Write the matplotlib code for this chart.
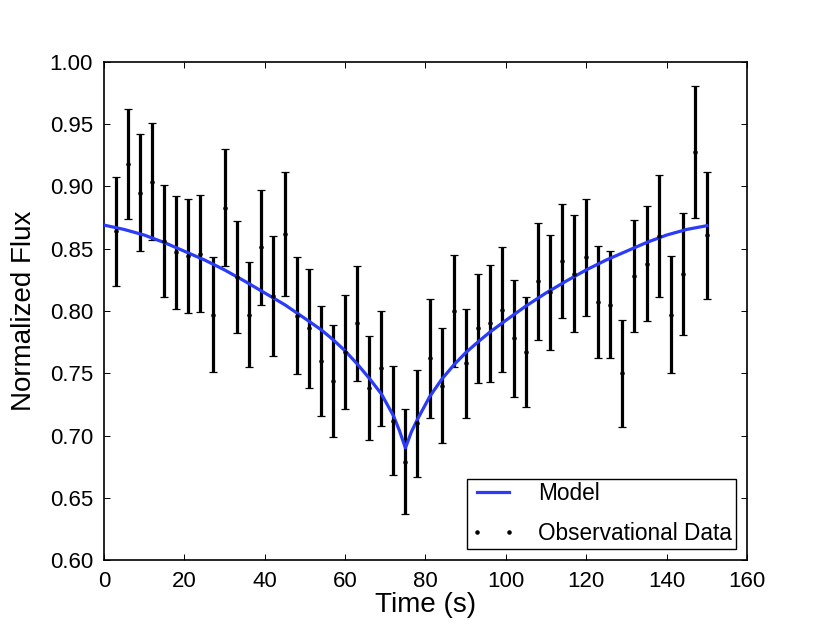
import matplotlib
matplotlib.use("Agg")
import matplotlib.pyplot as plt

plt.rcParams["font.family"] = ["Liberation Sans", "DejaVu Sans"]

time_s = [3, 6, 9, 12, 15, 18, 21, 24, 27, 30,
          33, 36, 39, 42, 45, 48, 51, 54, 57, 60,
          63, 66, 69, 72, 75, 78, 81, 84, 87, 90,
          93, 96, 99, 102, 105, 108, 111, 114, 117, 120,
          123, 126, 129, 132, 135, 138, 141, 144, 147, 150]
flux = [0.864, 0.918, 0.895, 0.904, 0.856, 0.847, 0.844, 0.846, 0.797, 0.883,
        0.827, 0.797, 0.851, 0.812, 0.862, 0.796, 0.786, 0.760, 0.744, 0.767,
        0.790, 0.738, 0.754, 0.712, 0.679, 0.710, 0.762, 0.740, 0.800, 0.758,
        0.786, 0.790, 0.801, 0.778, 0.767, 0.824, 0.815, 0.840, 0.830, 0.843,
        0.807, 0.805, 0.750, 0.828, 0.838, 0.860, 0.797, 0.830, 0.928, 0.861]
flux_err = [0.044, 0.044, 0.047, 0.047, 0.045, 0.045, 0.046, 0.047, 0.046, 0.047,
            0.045, 0.042, 0.046, 0.048, 0.050, 0.047, 0.048, 0.044, 0.045, 0.046,
            0.046, 0.042, 0.046, 0.044, 0.042, 0.043, 0.048, 0.046, 0.045, 0.044,
            0.044, 0.047, 0.050, 0.047, 0.044, 0.047, 0.046, 0.046, 0.047, 0.047,
            0.045, 0.043, 0.043, 0.045, 0.046, 0.049, 0.047, 0.049, 0.053, 0.051]

# model curve
model_t = [0, 5, 10, 15, 20, 25, 30, 35, 40, 45, 50, 54, 57, 60, 63, 66, 69, 72, 73.5, 75,
           76.5, 78, 81, 84, 87, 90, 93, 96, 100, 105, 110, 115, 120, 125, 130, 135, 140, 145, 150]
model_flux = [0.869, 0.8655, 0.861, 0.855, 0.848, 0.841, 0.833, 0.824, 0.8145, 0.805,
              0.794, 0.785, 0.777, 0.768, 0.7575, 0.746, 0.7335, 0.716, 0.704, 0.690,
              0.703, 0.713, 0.731, 0.745, 0.7565, 0.7665, 0.775, 0.783, 0.7925, 0.804,
              0.8145, 0.824, 0.833, 0.841, 0.848, 0.855, 0.861, 0.8655, 0.8685]

fig = plt.figure(figsize=(8.3, 6.26), dpi=100)
ax = fig.add_axes([0.1253, 0.1054, 0.7747, 0.7956])

ax.plot(model_t, model_flux, color="#2a3cfa", lw=2.3, label="Model", zorder=3)
ax.errorbar(time_s, flux, yerr=flux_err, fmt="none", ecolor="black",
            elinewidth=2.3, capsize=3, capthick=0.9, zorder=2)
ax.plot(time_s, flux, "k.", ms=4.5, label="Observational Data", zorder=4)

ax.set_xlim(0, 160)
ax.set_ylim(0.60, 1.00)
ax.set_xticks([0, 20, 40, 60, 80, 100, 120, 140, 160])
ax.set_yticks([0.60, 0.65, 0.70, 0.75, 0.80, 0.85, 0.90, 0.95, 1.00])
ax.set_yticklabels(["0.60", "0.65", "0.70", "0.75", "0.80", "0.85", "0.90", "0.95", "1.00"])
ax.tick_params(direction="in", top=True, right=True, length=4.5, width=0.7,
               labelsize=16, pad=8)
for s in ax.spines.values():
    s.set_linewidth(1.2)

ax.set_xlabel("Time (s)", fontsize=20, labelpad=0)
ax.set_ylabel("Normalized Flux", fontsize=20, labelpad=9)

leg = ax.legend(loc="lower right", numpoints=2, fontsize=16.3, fancybox=False,
                framealpha=1, edgecolor="black", handlelength=2.0,
                handletextpad=1.0, borderaxespad=0.5, borderpad=0.15,
                labelspacing=0.75)
leg.get_frame().set_linewidth(1.0)

fig.savefig("out.png", dpi=100)
